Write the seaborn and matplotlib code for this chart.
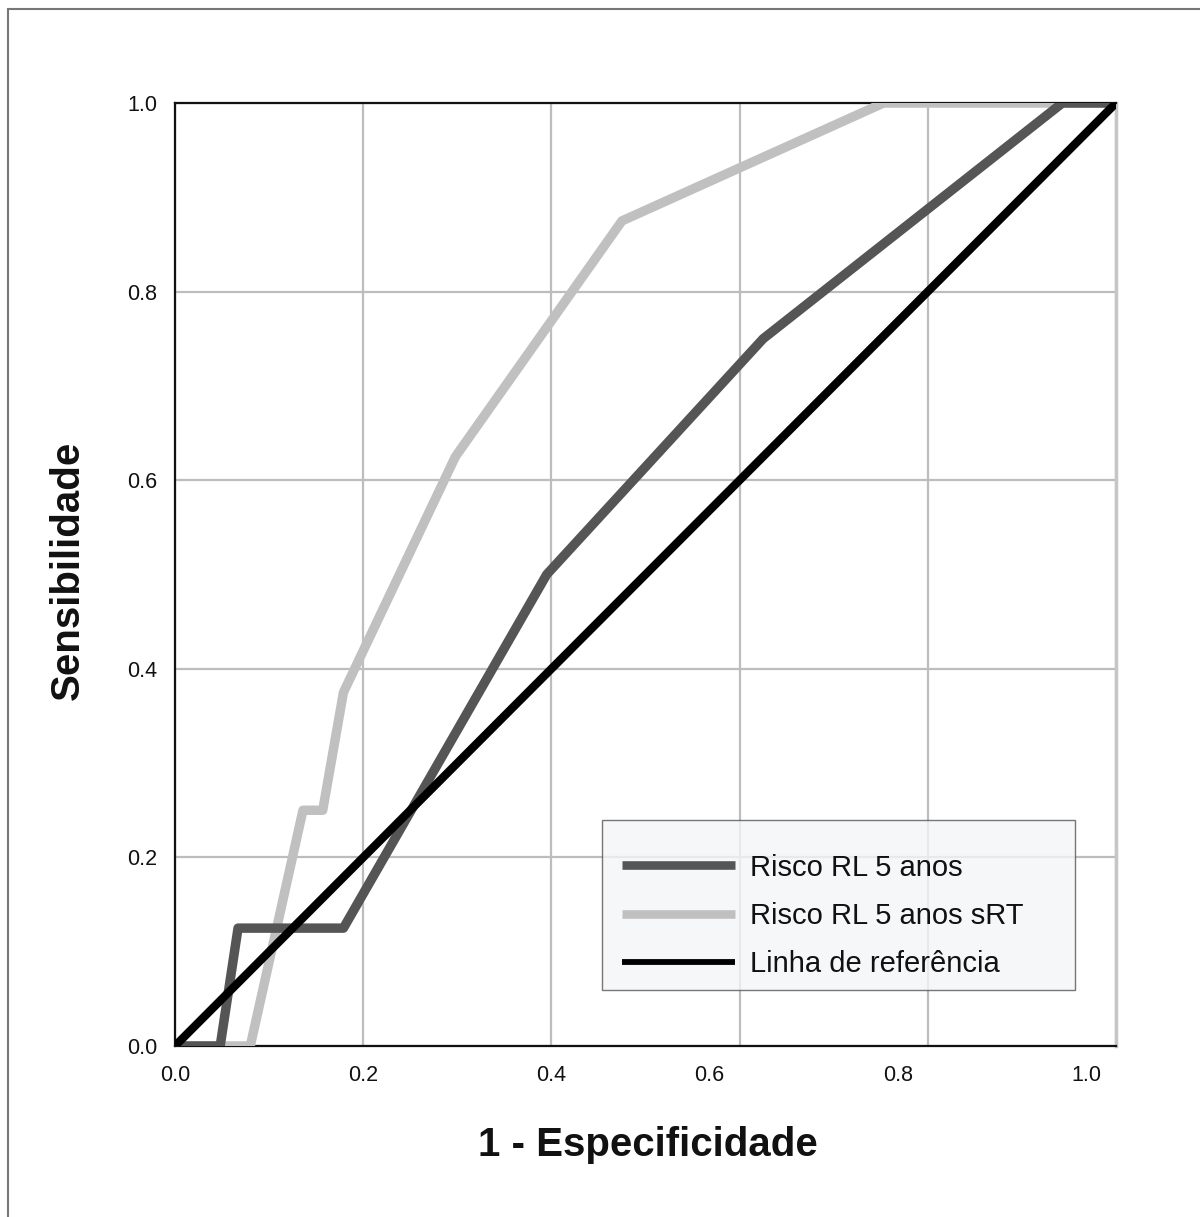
import matplotlib
matplotlib.use("Agg")
import matplotlib.pyplot as plt
import matplotlib.transforms as mtransforms
from matplotlib.lines import Line2D
from matplotlib.legend_handler import HandlerLine2D
import pandas as pd
import seaborn as sns

# ROC curve coordinates (1 - specificity, sensitivity)
rl_fpr = [0.0, 0.048, 0.067, 0.179, 0.395, 0.625, 0.943, 1.0]
rl_tpr = [0.0, 0.0, 0.125, 0.125, 0.5, 0.75, 1.0, 1.0]

srt_fpr = [0.0, 0.080, 0.136, 0.157, 0.179, 0.298, 0.475, 0.753, 1.0]
srt_tpr = [0.0, 0.0, 0.25, 0.25, 0.375, 0.625, 0.875, 1.0, 1.0]

ref_fpr = [0.0, 1.0]
ref_tpr = [0.0, 1.0]

series_names = ["Risco RL 5 anos", "Risco RL 5 anos sRT", "Linha de referência"]
tick_values = [0.0, 0.2, 0.4, 0.6, 0.8, 1.0]
tick_labels = ["0.0", "0.2", "0.4", "0.6", "0.8", "1.0"]

sns.set_theme(style="white")
plt.rcParams["font.family"] = ["Liberation Sans", "DejaVu Sans"]

fig = plt.figure(figsize=(12, 12.17), dpi=100)
ax = fig.add_axes([175 / 1200, 1 - 1046 / 1217, (1116 - 175) / 1200, (1046 - 103) / 1217])

colors = {series_names[0]: "#555555", series_names[1]: "#c0c0c0", series_names[2]: "#000000"}

frames = {
    series_names[1]: pd.DataFrame({"x": srt_fpr, "y": srt_tpr}),
    series_names[0]: pd.DataFrame({"x": rl_fpr, "y": rl_tpr}),
    series_names[2]: pd.DataFrame({"x": ref_fpr, "y": ref_tpr}),
}
widths = {series_names[0]: 6.8, series_names[1]: 6.8, series_names[2]: 6.0}

for name, df in frames.items():
    sns.lineplot(data=df, x="x", y="y", ax=ax, sort=False, estimator=None,
                 color=colors[name], linewidth=widths[name],
                 solid_capstyle="round", solid_joinstyle="round", zorder=3)

ax.set_xlim(0, 1)
ax.set_ylim(0, 1)
ax.set_xticks(tick_values)
ax.set_xticklabels(tick_labels)
ax.set_yticks(tick_values)
ax.set_yticklabels(tick_labels)
ax.tick_params(axis="both", length=0, labelsize=15.5, colors="#111111")
ax.tick_params(axis="x", pad=14)
ax.tick_params(axis="y", pad=13)

# SPSS-style label placement along the upper end of the x axis
for lbl, v in zip(ax.get_xticklabels(), tick_values):
    if v >= 0.6:
        lbl.set_transform(lbl.get_transform() +
                          mtransforms.ScaledTranslation(-0.30, 0, fig.dpi_scale_trans))

ax.grid(True, color="#bdbdbd", linewidth=1.6, zorder=0)
ax.set_axisbelow(True)

for side in ("left", "bottom", "top"):
    ax.spines[side].set_color("#111111")
    ax.spines[side].set_linewidth(1.6)
ax.spines["right"].set_color("#c6c6c6")
ax.spines["right"].set_linewidth(2.5)

ax.set_xlabel("")
ax.set_ylabel("")
fig.text(648 / 1200, 1 - 1145 / 1217, "1 - Especificidade", ha="center", va="center",
         fontsize=29, fontweight="bold", color="#111111")
fig.text(68 / 1200, 1 - 570 / 1217, "Sensibilidade", ha="center", va="center",
         rotation=90, fontsize=29, fontweight="bold", color="#111111")

handles = [
    Line2D([0], [0], color=colors[series_names[0]], linewidth=6.2, solid_capstyle="butt"),
    Line2D([0], [0], color=colors[series_names[1]], linewidth=6.2, solid_capstyle="butt"),
    Line2D([0], [0], color=colors[series_names[2]], linewidth=4.2, solid_capstyle="butt"),
]
x0 = (602 - 175) / 941
y0 = (1046 - 990) / 943
w = (1075 - 602) / 941
h = (990 - 821) / 943
leg = ax.legend(handles, series_names, loc="lower left",
                bbox_to_anchor=(x0, y0, w, h), mode="expand",
                fontsize=21, frameon=True, fancybox=False,
                title=" ", title_fontsize=1,
                handlelength=4.17, handletextpad=0.5, borderpad=0.4,
                labelspacing=0.7, borderaxespad=0,
                handler_map={Line2D: HandlerLine2D(xpad=0.28)})
leg.get_frame().set_facecolor("#f4f5f7")
leg.get_frame().set_edgecolor("#555555")
leg.get_frame().set_linewidth(1.0)
leg.set_zorder(5)
for t in leg.get_texts():
    t.set_color("#111111")

# outer frame of the chart panel
fig.add_artist(Line2D([8 / 1200, 8 / 1200], [0, 1 - 9 / 1217], transform=fig.transFigure,
                      color="#777777", linewidth=1.5))
fig.add_artist(Line2D([8 / 1200, 1], [1 - 9 / 1217, 1 - 9 / 1217], transform=fig.transFigure,
                      color="#777777", linewidth=1.5))

fig.savefig("out.png", dpi=100, facecolor="white")
